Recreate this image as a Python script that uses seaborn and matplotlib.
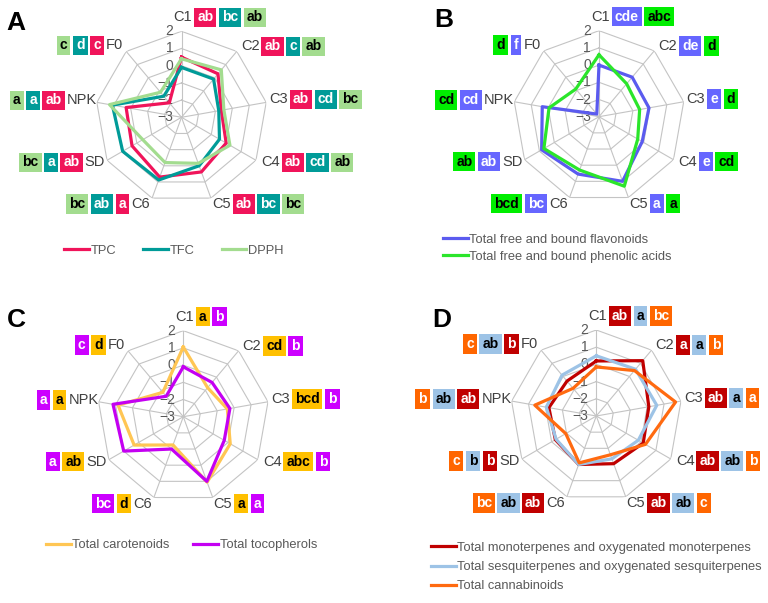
import numpy as np
import pandas as pd
import matplotlib
matplotlib.use("Agg")
import matplotlib.pyplot as plt
import seaborn as sns
from matplotlib.path import Path

# ---------------- data ----------------
categories = ["C1", "C2", "C3", "C4", "C5", "C6", "SD", "NPK", "F0"]
r_levels = [-3, -2, -1, 0, 1, 2]
tick_labels = ["\u22123", "\u22122", "\u22121", "0", "1", "2"]

# Panel A
a_names = ["TPC", "TFC", "DPPH"]
a_tpc = [0.5, 0.3, -0.65, 0.0, 0.38, 0.7, 0.32, 0.27, -1.9]
a_tfc = [-0.1, -0.1, -0.8, -0.45, 0.0, 0.88, 0.95, 1.08, -1.4]
a_dpph = [0.4, 0.6, -0.5, 0.25, -0.15, -0.2, -0.4, 1.25, -1.1]
a_tpc_let = ["ab", "ab", "ab", "ab", "ab", "a", "ab", "ab", "c"]
a_tfc_let = ["bc", "c", "cd", "cd", "bc", "ab", "a", "a", "d"]
a_dpph_let = ["ab", "ab", "bc", "ab", "bc", "bc", "bc", "a", "c"]

# Panel B
b_names = ["Total free and bound flavonoids", "Total free and bound phenolic acids"]
b_flav = [0.0, 0.0, -0.05, -0.1, 1.0, 0.55, 0.85, 0.35, -2.8]
b_phen = [0.6, -0.5, -0.6, -0.4, 1.3, 0.3, 0.7, -0.05, -0.9]
b_flav_let = ["cde", "de", "e", "e", "a", "bc", "ab", "cd", "f"]
b_phen_let = ["abc", "d", "d", "cd", "a", "bcd", "ab", "cd", "d"]

# Panel C
c_names = ["Total carotenoids", "Total tocopherols"]
c_carot = [1.05, -0.8, -0.4, 0.15, 1.05, -1.25, 0.3, 0.85, -1.15]
c_toco = [-0.1, -0.4, -0.25, -0.25, 1.0, -1.0, 1.0, 1.15, -1.45]
c_carot_let = ["a", "cd", "bcd", "abc", "a", "d", "ab", "a", "d"]
c_toco_let = ["b", "b", "b", "b", "a", "bc", "a", "a", "c"]

# Panel D
d_names = ["Total monoterpenes and oxygenated monoterpenes",
           "Total sesquiterpenes and oxygenated sesquiterpenes",
           "Total cannabinoids"]
d_mono = [0.2, 1.2, 0.1, 0.15, -0.05, 0.0, -0.25, -0.2, -0.35]
d_sesq = [0.5, 0.55, 0.57, -0.18, -0.35, 0.0, -0.3, -0.05, 0.1]
d_canna = [-0.15, 0.45, 1.68, 0.3, -0.6, -0.1, -0.95, 0.63, -0.9]
d_mono_let = ["ab", "a", "ab", "ab", "ab", "ab", "b", "ab", "b"]
d_sesq_let = ["a", "a", "a", "ab", "ab", "ab", "b", "ab", "ab"]
d_canna_let = ["bc", "b", "a", "b", "c", "bc", "c", "b", "c"]

# ---------------- style ----------------
W, H = 768, 603
R = 86.0
plt.rcParams["font.family"] = ["Liberation Sans", "DejaVu Sans"]

panels = [
    dict(letter="A", center=(181.5, 117.3), letter_pos=(6, 30),
         series=[(a_names[0], a_tpc, a_tpc_let, "#F0145A", "#F0145A", "white"),
                 (a_names[1], a_tfc, a_tfc_let, "#009B98", "#009B98", "white"),
                 (a_names[2], a_dpph, a_dpph_let, "#A3DC8F", "#A3DC8F", "black")],
         legend=dict(x=64, y=250.7, ncol=3, labelspacing=0.4, colsp=2.1)),
    dict(letter="B", center=(599.0, 116.7), letter_pos=(434, 27),
         series=[(b_names[0], b_flav, b_flav_let, "#5B5BEF", "#6666FF", "white"),
                 (b_names[1], b_phen, b_phen_let, "#2BE52B", "#00EE00", "black")],
         legend=dict(x=443, y=248.3, ncol=1, labelspacing=0.36, colsp=1.8)),
    dict(letter="C", center=(183.3, 416.7), letter_pos=(7, 327),
         series=[(c_names[0], c_carot, c_carot_let, "#FFC654", "#FFC000", "black"),
                 (c_names[1], c_toco, c_toco_let, "#C400F2", "#CC00FF", "white")],
         legend=dict(x=46, y=545, ncol=2, labelspacing=0.4, colsp=1.8)),
    dict(letter="D", center=(596.3, 416.0), letter_pos=(432, 327),
         series=[(d_names[0], d_mono, d_mono_let, "#C00000", "#C00000", "white"),
                 (d_names[1], d_sesq, d_sesq_let, "#9DC3E6", "#9DC3E6", "black"),
                 (d_names[2], d_canna, d_canna_let, "#FF6A10", "#FF6600", "white")],
         legend=dict(x=431, y=567.2, ncol=1, labelspacing=0.56, colsp=1.8)),
]

# label offsets (pixels, y up) and alignment for each category
lab_off = [(-8, 14, "left"), (4, 5, "left"), (3, 3, "left"), (5, -2, "left"),
           (1, -6, "left"), (-2, -6, "right"), (-2, -2, "right"), (0, 2, "right"),
           (-3, 6, "right")]

BOX_FS = 10
PX = 0.22
PY = 0.2


def hbox(x0, y0, width, height, mutation_size):
    px = PX * mutation_size
    py = PY * mutation_size
    xa, ya = x0 - px, y0 - py
    xb, yb = x0 + width + px, y0 + height + py
    return Path([(xa, ya), (xb, ya), (xb, yb), (xa, yb), (xa, ya)],
                [Path.MOVETO, Path.LINETO, Path.LINETO, Path.LINETO, Path.CLOSEPOLY])


pad_px = PX * BOX_FS * 100 / 72.0
GAP = 2.5

fig = plt.figure(figsize=(W / 100, H / 100), dpi=100)
fig.patch.set_facecolor("white")

n = len(categories)
theta = np.arange(n) * 2 * np.pi / n
theta_closed = np.append(theta, 2 * np.pi)

for p in panels:
    cx, cy = p["center"]
    ax = fig.add_axes([(cx - R) / W, 1 - (cy + R) / H, 2 * R / W, 2 * R / H],
                      projection="polar")
    ax.set_theta_zero_location("N")
    ax.set_theta_direction(-1)
    ax.set_ylim(min(r_levels), max(r_levels))
    ax.grid(False)
    ax.set_xticks([])
    ax.set_yticks([])
    ax.spines["polar"].set_visible(False)
    ax.set_facecolor("none")

    # nonagon grid
    for lev in r_levels[1:]:
        ax.plot(theta_closed, [lev] * (n + 1), color="#C4C4C4", lw=0.8, zorder=1)
    for th in theta:
        ax.plot([th, th], [min(r_levels), max(r_levels)], color="#C4C4C4", lw=0.8, zorder=1)

    # radial tick labels along C1 axis
    for lev, tl in zip(r_levels, tick_labels):
        ax.annotate(tl, xy=(0, lev), xytext=(-8, 0), textcoords="offset pixels",
                    ha="right", va="center", fontsize=10, color="#595959",
                    zorder=2, annotation_clip=False)

    # data lines
    handles = []
    for name, vals, lets, lc, bc, tc in p["series"]:
        df = pd.DataFrame({"theta": theta_closed, "value": list(vals) + [vals[0]]})
        sns.lineplot(data=df, x="theta", y="value", ax=ax, sort=False, estimator=None,
                     color=lc, lw=2.3, zorder=3)
        handles.append(ax.lines[-1])
    ax.set_xlabel("")
    ax.set_ylabel("")

    # category labels and letter boxes
    for i, cat in enumerate(categories):
        dx, dy, ha = lab_off[i]
        lab = ax.annotate(cat, xy=(theta[i], max(r_levels)), xytext=(dx, dy),
                          textcoords="offset pixels", ha=ha, va="center",
                          fontsize=10.5, color="#404040", annotation_clip=False, zorder=4)
        prev = lab
        first = True
        for name, vals, lets, lc, bc, tc in p["series"]:
            off = (pad_px + 2.0) if first else (2 * pad_px + GAP)
            if ha == "left":
                xy, xt, bha = (1, 0.5), (off, 0), "left"
            else:
                xy, xt, bha = (0, 0.5), (-off, 0), "right"
            prev = ax.annotate(lets[i], xy=xy, xycoords=prev, xytext=xt,
                               textcoords="offset pixels", ha=bha, va="center",
                               fontsize=BOX_FS, fontweight="bold", color=tc,
                               bbox=dict(boxstyle=hbox, facecolor=bc, edgecolor="none"),
                               annotation_clip=False, zorder=4)
            first = False

    # legend
    lg = p["legend"]
    leg = ax.legend(handles, [s[0] for s in p["series"]], loc="center left",
                    bbox_to_anchor=(lg["x"] / W, 1 - lg["y"] / H),
                    bbox_transform=fig.transFigure, ncol=lg["ncol"], frameon=False,
                    borderpad=0, borderaxespad=0, handlelength=1.9, handletextpad=0.15,
                    columnspacing=lg["colsp"], labelspacing=lg["labelspacing"],
                    fontsize=9.3, labelcolor="#595959")

    # panel letter
    lx, ly = p["letter_pos"]
    fig.text(lx / W, 1 - ly / H, p["letter"], fontsize=19, fontweight="bold",
             color="black", ha="left", va="baseline")

fig.savefig("out.png", dpi=100, facecolor="white")
